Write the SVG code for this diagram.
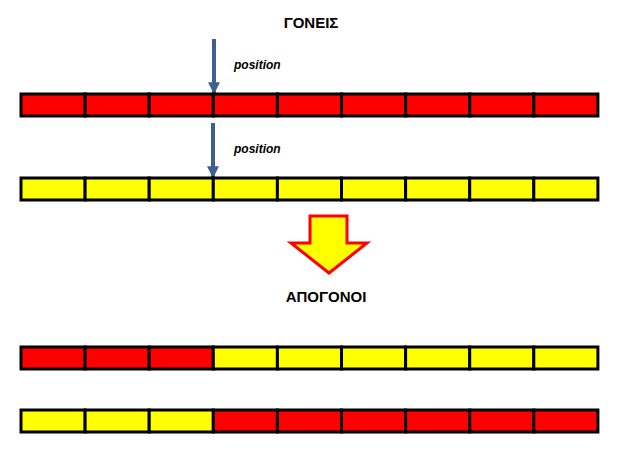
<svg xmlns="http://www.w3.org/2000/svg" width="621" height="457" viewBox="0 0 621 457">
<style>
.r{fill:#ff0000;stroke:#000;stroke-width:3}
.y{fill:#ffff00;stroke:#000;stroke-width:3}
.t{font-family:"Liberation Sans",Arial,sans-serif;font-weight:bold;font-size:15px;fill:#000}
.p{font-family:"Liberation Sans",Arial,sans-serif;font-weight:bold;font-style:italic;font-size:12px;fill:#000}
</style>
<defs>
<marker id="ah" viewBox="0 0 10 10" refX="9" refY="5" markerWidth="3" markerHeight="3" orient="auto"><path d="M0,0 L10,5 L0,10 z" fill="#3f5f8f"/></marker>
<g id="rowR"><rect class="r" x="21" y="0" width="64.1" height="22"/><rect class="r" x="85.1" y="0" width="64.1" height="22"/><rect class="r" x="149.2" y="0" width="64.1" height="22"/></g>
</defs>
<text class="t" x="311" y="28" text-anchor="middle">ΓΟΝΕΙΣ</text>
<text class="t" x="326" y="302" text-anchor="middle">ΑΠΟΓΟΝΟΙ</text>
<text class="p" x="234" y="69">position</text>
<text class="p" x="234" y="153">position</text>
<g id="connectors">
<line x1="214" y1="39" x2="214" y2="93" stroke="#3f5f8f" stroke-width="4" marker-end="url(#ah)"/>
<line x1="213" y1="123" x2="213" y2="177" stroke="#3f5f8f" stroke-width="4" marker-end="url(#ah)"/>
</g>
<g id="bigarrow"><polygon points="310,216 347,216 347,243 367,243 329,273 291,243 310,243" fill="#ffff00" stroke="#ff0000" stroke-width="3"/></g>
<g id="parent1"><rect class="r" x="21" y="94" width="64.1" height="22"/><rect class="r" x="85.1" y="94" width="64.1" height="22"/><rect class="r" x="149.2" y="94" width="64.1" height="22"/><rect class="r" x="213.3" y="94" width="64.1" height="22"/><rect class="r" x="277.4" y="94" width="64.1" height="22"/><rect class="r" x="341.5" y="94" width="64.1" height="22"/><rect class="r" x="405.6" y="94" width="64.1" height="22"/><rect class="r" x="469.7" y="94" width="64.1" height="22"/><rect class="r" x="533.8" y="94" width="64.1" height="22"/></g>
<g id="parent2"><rect class="y" x="21" y="178" width="64.1" height="22"/><rect class="y" x="85.1" y="178" width="64.1" height="22"/><rect class="y" x="149.2" y="178" width="64.1" height="22"/><rect class="y" x="213.3" y="178" width="64.1" height="22"/><rect class="y" x="277.4" y="178" width="64.1" height="22"/><rect class="y" x="341.5" y="178" width="64.1" height="22"/><rect class="y" x="405.6" y="178" width="64.1" height="22"/><rect class="y" x="469.7" y="178" width="64.1" height="22"/><rect class="y" x="533.8" y="178" width="64.1" height="22"/></g>
<g id="child1"><rect class="r" x="21" y="347" width="64.1" height="22"/><rect class="r" x="85.1" y="347" width="64.1" height="22"/><rect class="r" x="149.2" y="347" width="64.1" height="22"/><rect class="y" x="213.3" y="347" width="64.1" height="22"/><rect class="y" x="277.4" y="347" width="64.1" height="22"/><rect class="y" x="341.5" y="347" width="64.1" height="22"/><rect class="y" x="405.6" y="347" width="64.1" height="22"/><rect class="y" x="469.7" y="347" width="64.1" height="22"/><rect class="y" x="533.8" y="347" width="64.1" height="22"/></g>
<g id="child2"><rect class="y" x="21" y="410" width="64.1" height="22"/><rect class="y" x="85.1" y="410" width="64.1" height="22"/><rect class="y" x="149.2" y="410" width="64.1" height="22"/><rect class="r" x="213.3" y="410" width="64.1" height="22"/><rect class="r" x="277.4" y="410" width="64.1" height="22"/><rect class="r" x="341.5" y="410" width="64.1" height="22"/><rect class="r" x="405.6" y="410" width="64.1" height="22"/><rect class="r" x="469.7" y="410" width="64.1" height="22"/><rect class="r" x="533.8" y="410" width="64.1" height="22"/></g>
</svg>
